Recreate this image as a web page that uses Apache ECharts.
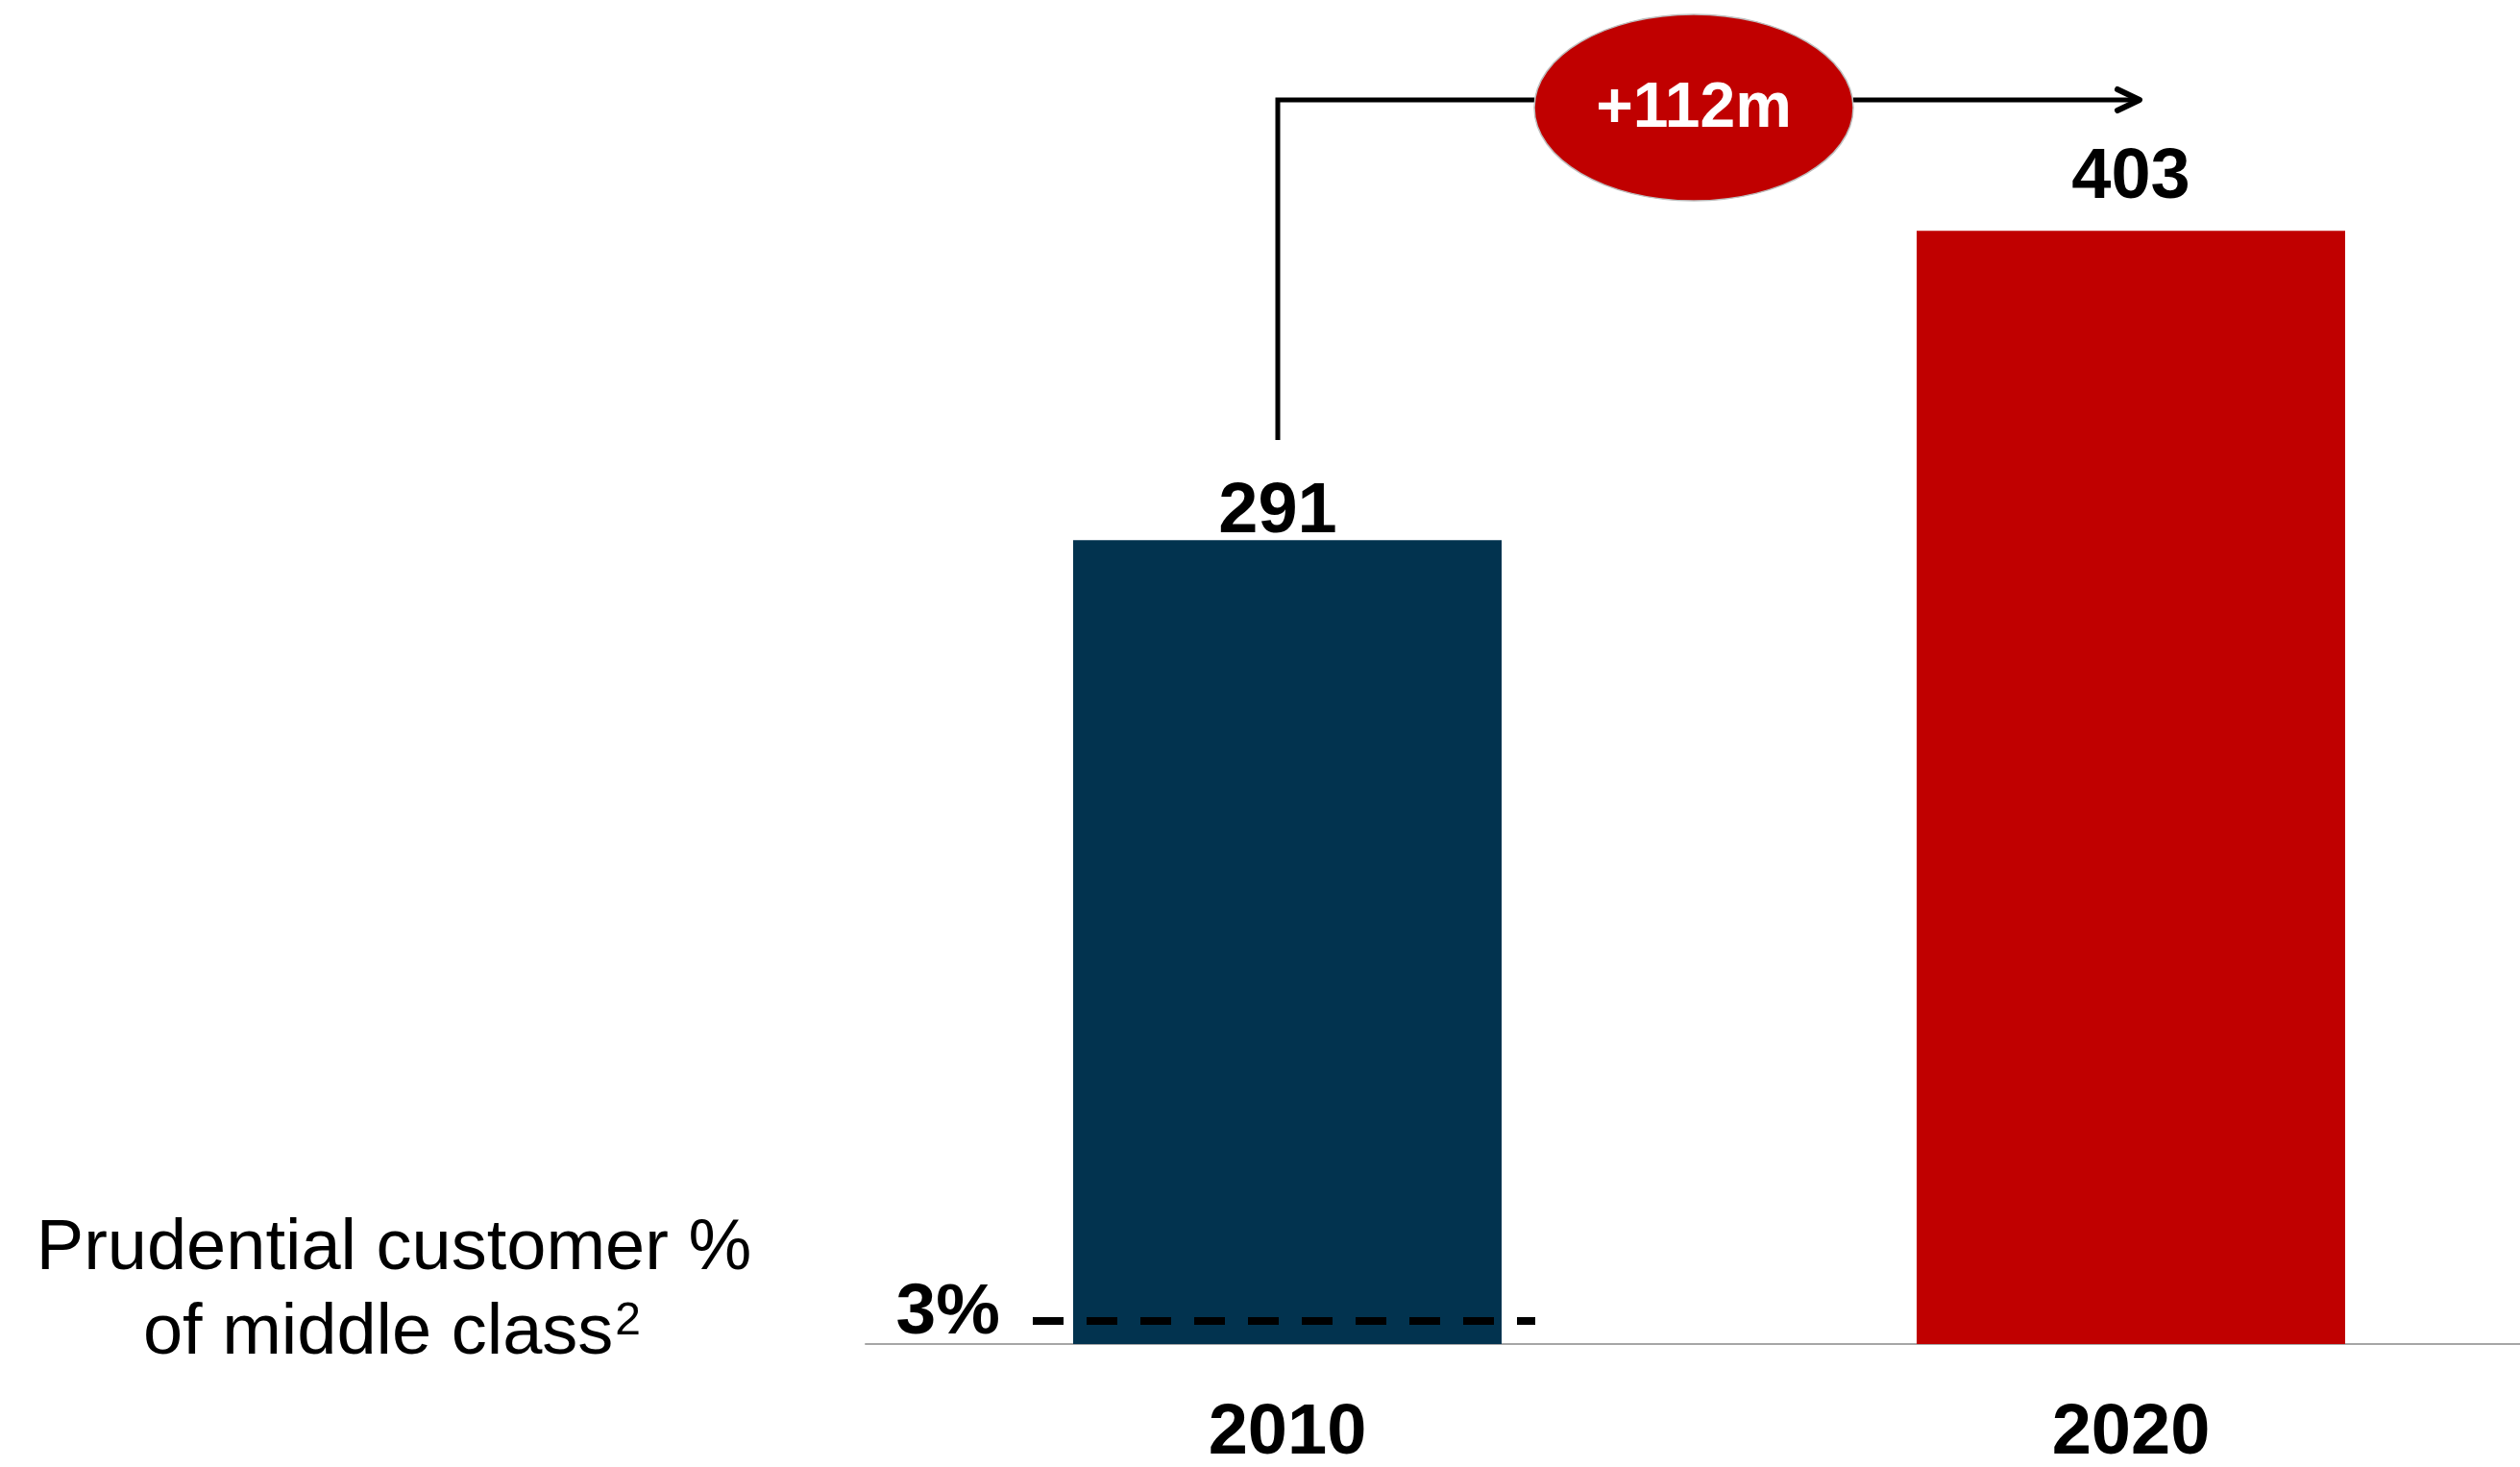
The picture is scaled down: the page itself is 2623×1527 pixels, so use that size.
<!DOCTYPE html>
<html>
<head>
<meta charset="utf-8">
<script src="https://cdn.jsdelivr.net/npm/echarts@6/dist/echarts.min.js"></script>
<style>
  html, body { margin: 0; padding: 0; background: #fff; }
  #main { width: 2623px; height: 1527px; }
</style>
</head>
<body>
<div id="main"></div>
<script>
// data
var years = ['2010', '2020'];
var customers = [291, 403];       // middle class, millions
var barColors = ['#02334F', '#C00000'];
var labelOffsets = [[-10, 8], [0, -18]];
var growthText = '+112m';
var shareText = '3%';

var FONT = "'Liberation Sans', Arial, sans-serif";

var chart = echarts.init(document.getElementById('main'));

var option = {
	backgroundColor: '#fff',
	animation: false,
	grid: {
		left: 901,
		width: 1756,
		top: 105,
		bottom: 128,
		outerBoundsMode: 'none'
	},
	xAxis: {
		type: 'category',
		data: years,
		axisLine: { lineStyle: { color: '#A6A6A6', width: 2 } },
		axisTick: { show: false },
		axisLabel: {
			margin: 57,
			color: '#000',
			fontFamily: FONT,
			fontWeight: 'bold',
			fontSize: 74
		}
	},
	yAxis: {
		type: 'value',
		min: 0,
		max: 450,
		show: false
	},
	series: [{
		type: 'bar',
		barWidth: 446,
		data: customers.map(function(v, i) {
			return {
				value: v,
				itemStyle: { color: barColors[i] },
				label: { offset: labelOffsets[i] }
			};
		}),
		label: {
			show: true,
			position: 'top',
			distance: 0,
			color: '#000',
			fontFamily: FONT,
			fontWeight: 'bold',
			fontSize: 74
		}
	}]
};

chart.setOption(option);

// annotations: growth arrow, 3% marker and side caption
var p0 = chart.convertToPixel({ xAxisIndex: 0 }, years[0]);
var p1 = chart.convertToPixel({ xAxisIndex: 0 }, years[1]);
var arrowY = 104;
var ell = { cx: 1763, cy: 112, rx: 166, ry: 97 };
var stroke = { stroke: '#000', lineWidth: 5 };

chart.setOption({
	graphic: [
		{ type: 'polyline', z: 100, shape: { points: [[p0 - 10, 458], [p0 - 10, arrowY], [ell.cx - ell.rx, arrowY]] }, style: stroke },
		{ type: 'line', z: 100, shape: { x1: ell.cx + ell.rx, y1: arrowY, x2: p1 + 8, y2: arrowY }, style: stroke },
		{ type: 'polyline', z: 100, shape: { points: [[p1 - 14, arrowY - 11], [p1 + 9, arrowY], [p1 - 14, arrowY + 11]] }, style: { stroke: '#000', lineWidth: 6, lineCap: 'round', lineJoin: 'round' } },
		{ type: 'ellipse', z: 101, shape: ell, style: { fill: '#C00000', stroke: '#BDBDBD', lineWidth: 1.5 } },
		{
			type: 'text', z: 102, x: ell.cx, y: ell.cy + 2,
			style: { text: growthText, fill: '#fff', font: 'bold 66px ' + FONT, align: 'center', verticalAlign: 'middle' }
		},
		{
			type: 'line', z: 100, shape: { x1: 1075, y1: 1375, x2: 1598, y2: 1375 },
			style: { stroke: '#000', lineWidth: 8, lineDash: [32, 24] }
		},
		{
			type: 'text', z: 100, x: 1041, y: 1330,
			style: { text: shareText, fill: '#000', font: 'bold 75px ' + FONT, align: 'right', verticalAlign: 'top' }
		},
		{
			type: 'text', z: 100, x: 410, y: 1264,
			style: { text: 'Prudential customer %', fill: '#000', font: '74px ' + FONT, align: 'center', verticalAlign: 'top' }
		},
		{
			type: 'text', z: 100, x: 408, y: 1352,
			style: {
				text: '{a|of middle class}{s|2}',
				align: 'center',
				verticalAlign: 'top',
				rich: {
					a: { fill: '#000', fontFamily: FONT, fontSize: 74 },
					s: { fill: '#000', fontFamily: FONT, fontSize: 48, verticalAlign: 'top', padding: [0, 0, 0, 2] }
				}
			}
		}
	]
});
</script>
</body>
</html>
